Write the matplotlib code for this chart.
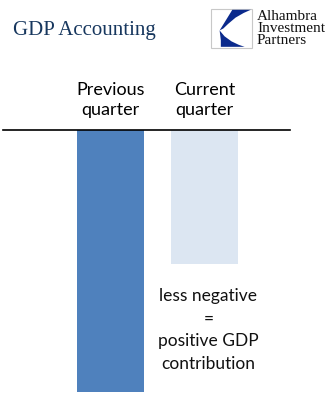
import matplotlib
matplotlib.use('Agg')
import matplotlib.pyplot as plt
from matplotlib.patches import Polygon, Rectangle

##########################################################################################################

CATEGORIES = ['Previous\nquarter', 'Current\nquarter']
VALUES = [-10.0, -5.1]
BAR_COLOURS = ['#4F81BD', '#DCE6F2']
TITLE = 'GDP Accounting'
NOTE = 'less negative\n=\npositive GDP\ncontribution'
LOGO_LINES = ['Alhambra', 'Investment', 'Partners']

W, H = 332, 413

##########################################################################################################

fig = plt.figure(figsize=(W / 100, H / 100), dpi=100)

# axes placed so zero line sits at y=130px and deepest bar ends at y=392px
ax = fig.add_axes([3 / W, (H - 392) / H, 287 / W, 262 / H])

x = list(range(len(CATEGORIES)))
ax.bar(x, VALUES, width=0.713, color=BAR_COLOURS, align='center')
ax.set_ylim(-10, 0)
ax.set_xlim(-1.1436, 1.9096)

for side in ['left', 'right', 'bottom']:
    ax.spines[side].set_visible(False)
ax.spines['top'].set_linewidth(1.2)
ax.spines['top'].set_color('black')

ax.set_yticks([])
ax.xaxis.tick_top()
ax.set_xticks(x)
ax.set_xticklabels(CATEGORIES, fontsize=13, family='Lato', linespacing=1.25)
ax.tick_params(axis='x', length=0, pad=9)

# annotation under the lighter bar
ax.text(1.04, -7.63, NOTE, ha='center', va='center', fontsize=12.5,
        family='Lato', linespacing=1.5, color='#111111')

# title
fig.text(13 / W, 1 - 35 / H, TITLE, fontsize=15, family='Liberation Serif',
         color='#17375E', ha='left', va='baseline')

# logo
logo = fig.add_axes([211 / W, 1 - 48 / H, 41 / W, 39 / H])
logo.set_xlim(0, 1)
logo.set_ylim(0, 1)
logo.axis('off')
logo.add_patch(Rectangle((0, 0), 1, 1, facecolor='white', edgecolor='#C8C8C8',
                         lw=0.8, clip_on=False))
logo.add_patch(Polygon([(0.52, 0.98), (0.97, 0.98), (0.8, 0.9), (0.6, 0.78),
                        (0.42, 0.62), (0.3, 0.5), (0.21, 0.45)],
                       closed=True, facecolor='#0B2A8C', edgecolor='none', clip_on=False))
logo.add_patch(Polygon([(0.21, 0.45), (0.33, 0.3), (0.5, 0.17), (0.68, 0.08),
                        (0.82, 0.03), (0.24, 0.03), (0.24, 0.2)],
                       closed=True, facecolor='#0B2A8C', edgecolor='none', clip_on=False))

for i, line in enumerate(LOGO_LINES):
    fig.text(257 / W, 1 - (20 + i * 12) / H, line, fontsize=11,
             family='Liberation Serif', color='#111111', ha='left', va='baseline')

fig.savefig('out.png', dpi=100)
